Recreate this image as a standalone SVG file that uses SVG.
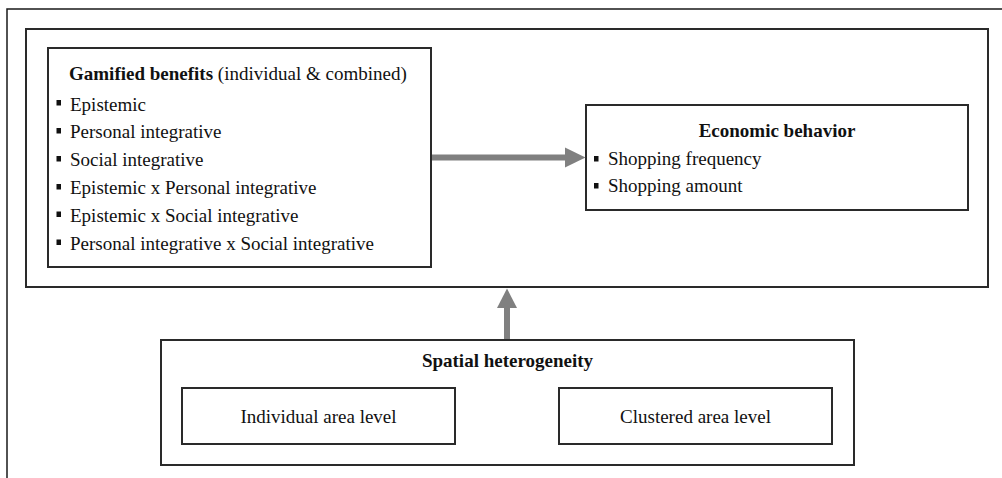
<svg xmlns="http://www.w3.org/2000/svg" width="1002" height="478" viewBox="0 0 1002 478">
<style>
.box{fill:#fff;stroke:#2a2a2a;stroke-width:2}
.t{font-family:"Liberation Serif","Times New Roman",serif;font-size:19px;fill:#111}
.b{font-weight:bold}
.bul{fill:#111}
.arr{stroke:#808080;stroke-width:6;fill:none}
.head{fill:#808080}
</style>
<rect width="1002" height="478" fill="#fff"/>
<g id="frame">
<path d="M7,478 V9 H1002" fill="none" stroke="#1a1a1a" stroke-width="1.5"/>
</g>
<g id="main">
<rect class="box" x="26" y="29" width="962" height="258"/>
</g>
<g id="gamified">
<rect class="box" x="48" y="48" width="383" height="219"/>
<text class="t" x="69" y="80"><tspan class="b">Gamified benefits</tspan> (individual &amp; combined)</text>
<rect class="bul" x="56.5" y="100" width="4.5" height="5.5"/>
<text class="t" x="70" y="110.5">Epistemic</text>
<rect class="bul" x="56.5" y="128" width="4.5" height="5.5"/>
<text class="t" x="70" y="138.3">Personal integrative</text>
<rect class="bul" x="56.5" y="156" width="4.5" height="5.5"/>
<text class="t" x="70" y="166.1">Social integrative</text>
<rect class="bul" x="56.5" y="184" width="4.5" height="5.5"/>
<text class="t" x="70" y="193.9">Epistemic x Personal integrative</text>
<rect class="bul" x="56.5" y="211.5" width="4.5" height="5.5"/>
<text class="t" x="70" y="221.7">Epistemic x Social integrative</text>
<rect class="bul" x="56.5" y="239.5" width="4.5" height="5.5"/>
<text class="t" x="70" y="249.5">Personal integrative x Social integrative</text>
</g>
<g id="economic">
<rect class="box" x="586" y="105" width="382" height="105"/>
<text class="t b" x="777" y="136.5" text-anchor="middle">Economic behavior</text>
<rect class="bul" x="594" y="156" width="4.5" height="5.5"/>
<text class="t" x="608" y="165">Shopping frequency</text>
<rect class="bul" x="594" y="183" width="4.5" height="5.5"/>
<text class="t" x="608" y="192">Shopping amount</text>
</g>
<g id="spatial">
<rect class="box" x="161" y="340" width="693" height="125"/>
<text class="t b" x="507.5" y="367" text-anchor="middle">Spatial heterogeneity</text>
</g>
<g id="individual">
<rect class="box" x="182" y="388" width="273" height="56"/>
<text class="t" x="318.5" y="423" text-anchor="middle">Individual area level</text>
</g>
<g id="clustered">
<rect class="box" x="559" y="388" width="273" height="56"/>
<text class="t" x="695.5" y="423" text-anchor="middle">Clustered area level</text>
</g>
<g id="connectors">
<line class="arr" x1="432" y1="157.5" x2="566" y2="157.5"/>
<polygon class="head" points="565,147.5 585.5,157.5 565,167.5"/>
<line class="arr" x1="507" y1="339" x2="507" y2="307"/>
<polygon class="head" points="497,308 507,288.5 517,308"/>
</g>
</svg>
